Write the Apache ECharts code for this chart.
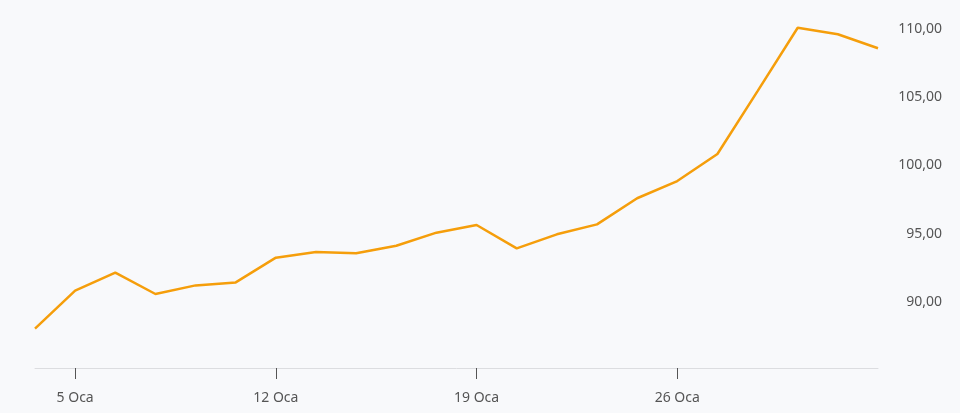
<!DOCTYPE html>
<html><head><meta charset="utf-8">
<script src="https://cdn.jsdelivr.net/npm/echarts@6/dist/echarts.min.js"></script>
<style>html,body{margin:0;padding:0;background:#f8f9fb;}#c{width:960px;height:413px;}</style>
</head><body><div id="c"></div>
<script>
const categories = ['2 Oca','5 Oca','6 Oca','7 Oca','8 Oca','9 Oca','12 Oca','13 Oca','14 Oca','15 Oca','16 Oca','19 Oca','20 Oca','21 Oca','22 Oca','23 Oca','26 Oca','27 Oca','28 Oca','29 Oca','30 Oca','2 Şub'];
const values = [88.05, 90.83, 92.15, 90.59, 91.22, 91.44, 93.25, 93.66, 93.57, 94.12, 95.08, 95.64, 93.93, 94.96, 95.69, 97.6, 98.86, 100.84, 105.45, 110.09, 109.61, 108.59];
const labelIndices = [1, 6, 11, 16];
const yTicks = [90, 95, 100, 105, 110];

const chart = echarts.init(document.getElementById('c'), null, {renderer:'canvas'});
chart.setOption({
  backgroundColor: '#f8f9fb',
  animation: false,
  grid: {left: 35, right: 82, top: 0, bottom: 45},
  xAxis: {
    type: 'category', data: categories, boundaryGap: false,
    axisLine: {lineStyle: {color: '#dcdde0', width: 1}},
    axisTick: {show: true, length: 11, interval: (i) => labelIndices.includes(i), lineStyle: {color: '#555'}},
    axisLabel: {interval: (i) => labelIndices.includes(i), color: '#555', fontFamily: 'Noto Sans', fontSize: 14, margin: 23},
    splitLine: {show: false}
  },
  yAxis: {
    type: 'value', position: 'right', min: 85.17, max: 112.12,
    axisLine: {show: false}, axisTick: {show: false}, splitLine: {show: false},
    axisLabel: {customValues: yTicks, color: '#555', fontFamily: 'Noto Sans', fontSize: 14, align: 'right', margin: 64,
      formatter: (v) => v.toFixed(2).replace('.', ',')}
  },
  series: [{
    type: 'line', data: values, showSymbol: false, symbol: 'none',
    lineStyle: {color: '#f59e0b', width: 2.5}, itemStyle: {color: '#f59e0b'}
  }]
});
</script></body></html>
